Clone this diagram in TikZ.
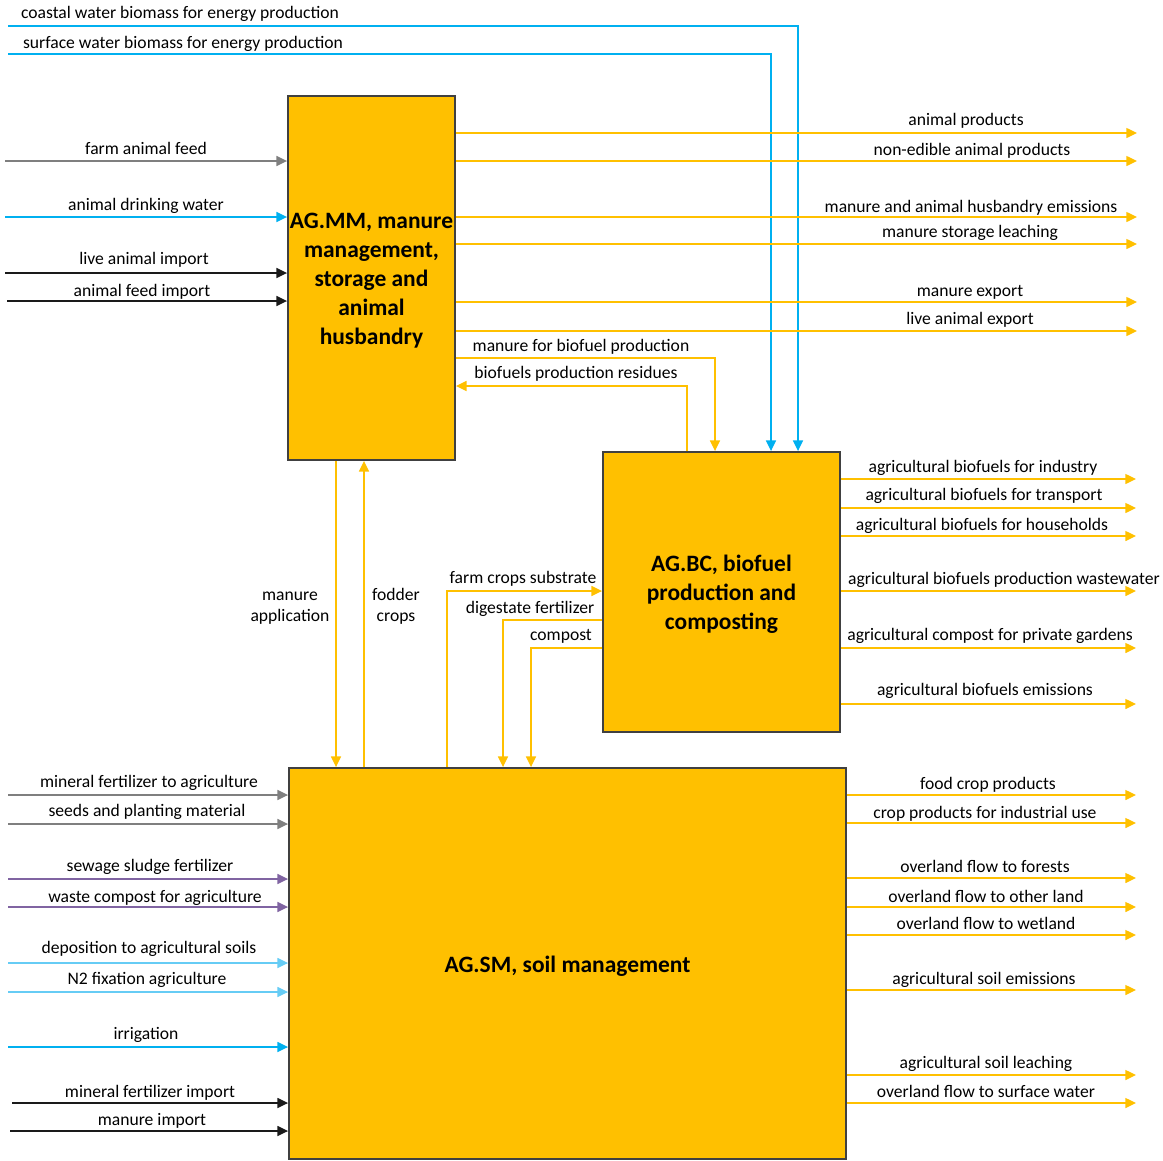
\documentclass[tikz,border=0pt]{standalone}
\usepackage{fontspec}
\setmainfont{Carlito}
\usetikzlibrary{arrows.meta}
\definecolor{orng}{HTML}{FFC000}
\definecolor{bluec}{HTML}{00B0F0}
\definecolor{lblue}{HTML}{66CCF5}
\definecolor{grayc}{HTML}{7F7F7F}
\definecolor{purp}{HTML}{8064A2}
\definecolor{blk}{HTML}{1A1A1A}
\definecolor{bord}{HTML}{404040}
\begin{document}
\begin{tikzpicture}[x=0.75pt,y=-0.75pt,
  box/.style={draw=bord,line width=1.4pt,fill=orng,inner sep=0pt},
  boxtext/.style={inner sep=0pt,align=center,
    font=\fontsize{17.6}{21.75}\selectfont\bfseries},
  flow/.style={line width=1pt,-{Triangle[length=8pt,width=7.5pt]}},
  of/.style={flow,draw=orng,-{Triangle[length=8pt,width=7.5pt,fill=orng]}},
  bf/.style={flow,draw=bluec},
  lbf/.style={flow,draw=lblue},
  gf/.style={flow,draw=grayc},
  pf/.style={flow,draw=purp},
  kf/.style={flow,draw=blk},
  lab/.style={anchor=base,inner sep=0pt,align=center,
    font=\fontsize{13.2}{15.75}\selectfont}]
\useasboundingbox (0,0) rectangle (1163,1160);

% boxes
\node[box,minimum width=125.25pt,minimum height=273pt] (mm) at (371.5,278) {};
\node[boxtext] (mmt) at (371.5,281)
  {AG.MM, manure\\management,\\storage and\\animal\\husbandry};
\node[box,minimum width=177.75pt,minimum height=210pt] (bc) at (721.5,592) {};
\node[boxtext] (bct) at (721.5,594) {AG.BC, biofuel\\production and\\composting};
\node[box,minimum width=417.75pt,minimum height=293.25pt] (sm) at (567.5,963.5) {};
\node[boxtext] (smt) at (567.5,966.5) {AG.SM, soil management};

% top blue inputs to BC
\coordinate (cw) at (8,26);  \coordinate (xcw) at (798,0);
\coordinate (sw) at (8,54);  \coordinate (xsw) at (771,0);
\draw[bf] (cw) -| (xcw |- bc.north);
\draw[bf] (sw) -| (xsw |- bc.north);
\node[lab] (lcw) at (180,18) {coastal water biomass for energy production};
\node[lab] (lsw) at (183,48) {surface water biomass for energy production};

% MM inputs
\coordinate (a1) at (5,161);
\coordinate (a2) at (5,217);
\coordinate (a3) at (5,273);
\coordinate (a4) at (7,301);
\draw[gf] (a1) -- (a1 -| mm.west);
\draw[bf] (a2) -- (a2 -| mm.west);
\draw[kf] (a3) -- (a3 -| mm.west);
\draw[kf] (a4) -- (a4 -| mm.west);
\node[lab] (la1) at (146,154) {farm animal feed};
\node[lab] (la2) at (146,210) {animal drinking water};
\node[lab] (la3) at (144,264) {live animal import};
\node[lab] (la4) at (142,296) {animal feed import};

% MM outputs
\foreach \y/\n in {133/o1,161/o2,217/o3,244/o4,302/o5,331/o6}{
  \coordinate (\n) at (1137,\y);
  \draw[of] (\n -| mm.east) -- (\n);
}
\node[lab] (lo1) at (966,125) {animal products};
\node[lab] (lo2) at (972,155) {non-edible animal products};
\node[lab] (lo3) at (971,212) {manure and animal husbandry emissions};
\node[lab] (lo4) at (970,237) {manure storage leaching};
\node[lab] (lo5) at (970,296) {manure export};
\node[lab] (lo6) at (970,324) {live animal export};

% MM <-> BC
\coordinate (mb) at (715,358);
\coordinate (br) at (687,386);
\draw[of] (mb -| mm.east) -| (mb |- bc.north);
\draw[of] (br |- bc.north) |- (br -| mm.east);
\node[lab] (lmb) at (581,351) {manure for biofuel production};
\node[lab] (lbr) at (576,378) {biofuels production residues};

% MM <-> SM
\coordinate (ma) at (336,0);
\coordinate (fc) at (364,0);
\draw[of] (ma |- mm.south) -- (ma |- sm.north);
\draw[of] (fc |- sm.north) -- (fc |- mm.south);
\node[lab] (lma) at (290,621) {manure\\application};
\node[lab] (lfc) at (396,621) {fodder\\crops};

% BC <-> SM
\coordinate (fs) at (447,591);
\coordinate (dg) at (503,620);
\coordinate (cp) at (531,648);
\draw[of] (fs |- sm.north) |- (fs -| bc.west);
\draw[of] (dg -| bc.west) -| (dg |- sm.north);
\draw[of] (cp -| bc.west) -| (cp |- sm.north);
\node[lab] (lfs) at (523,583) {farm crops substrate};
\node[lab] (ldg) at (530,613) {digestate fertilizer};
\node[lab] (lcp) at (561,640) {compost};

% BC outputs
\foreach \y/\n in {479/b1,508/b2,536/b3,591/b4,648/b5,704/b6}{
  \coordinate (\n) at (1136,\y);
  \draw[of] (\n -| bc.east) -- (\n);
}
\node[lab] (lb1) at (983,472) {agricultural biofuels for industry};
\node[lab] (lb2) at (984,500) {agricultural biofuels for transport};
\node[lab] (lb3) at (982,530) {agricultural biofuels for households};
\node[lab] (lb4) at (1004,584) {agricultural biofuels production wastewater};
\node[lab] (lb5) at (990,640) {agricultural compost for private gardens};
\node[lab] (lb6) at (985,695) {agricultural biofuels emissions};

% SM inputs
\coordinate (s1) at (8,795);
\coordinate (s2) at (8,824);
\coordinate (s3) at (8,879);
\coordinate (s4) at (8,907);
\coordinate (s5) at (8,963);
\coordinate (s6) at (8,992);
\coordinate (s7) at (8,1047);
\coordinate (s8) at (12,1103);
\coordinate (s9) at (10,1131);
\draw[gf] (s1) -- (s1 -| sm.west);
\draw[gf] (s2) -- (s2 -| sm.west);
\draw[pf] (s3) -- (s3 -| sm.west);
\draw[pf] (s4) -- (s4 -| sm.west);
\draw[lbf] (s5) -- (s5 -| sm.west);
\draw[lbf] (s6) -- (s6 -| sm.west);
\draw[bf] (s7) -- (s7 -| sm.west);
\draw[kf] (s8) -- (s8 -| sm.west);
\draw[kf] (s9) -- (s9 -| sm.west);
\node[lab] (ls1) at (149,787) {mineral fertilizer to agriculture};
\node[lab] (ls2) at (147,816) {seeds and planting material};
\node[lab] (ls3) at (150,871) {sewage sludge fertilizer};
\node[lab] (ls4) at (155,902) {waste compost for agriculture};
\node[lab] (ls5) at (149,953) {deposition to agricultural soils};
\node[lab] (ls6) at (147,984) {N2 fixation agriculture};
\node[lab] (ls7) at (146,1039) {irrigation};
\node[lab] (ls8) at (150,1097) {mineral fertilizer import};
\node[lab] (ls9) at (152,1125) {manure import};

% SM outputs
\foreach \y/\n in {795/r1,823/r2,878/r3,907/r4,935/r5,990/r6,1075/r7,1103/r8}{
  \coordinate (\n) at (1136,\y);
  \draw[of] (\n -| sm.east) -- (\n);
}
\node[lab] (lr1) at (988,789) {food crop products};
\node[lab] (lr2) at (985,818) {crop products for industrial use};
\node[lab] (lr3) at (985,872) {overland flow to forests};
\node[lab] (lr4) at (986,902) {overland flow to other land};
\node[lab] (lr5) at (986,929) {overland flow to wetland};
\node[lab] (lr6) at (984,984) {agricultural soil emissions};
\node[lab] (lr7) at (986,1068) {agricultural soil leaching};
\node[lab] (lr8) at (986,1097) {overland flow to surface water};
\end{tikzpicture}
\end{document}
